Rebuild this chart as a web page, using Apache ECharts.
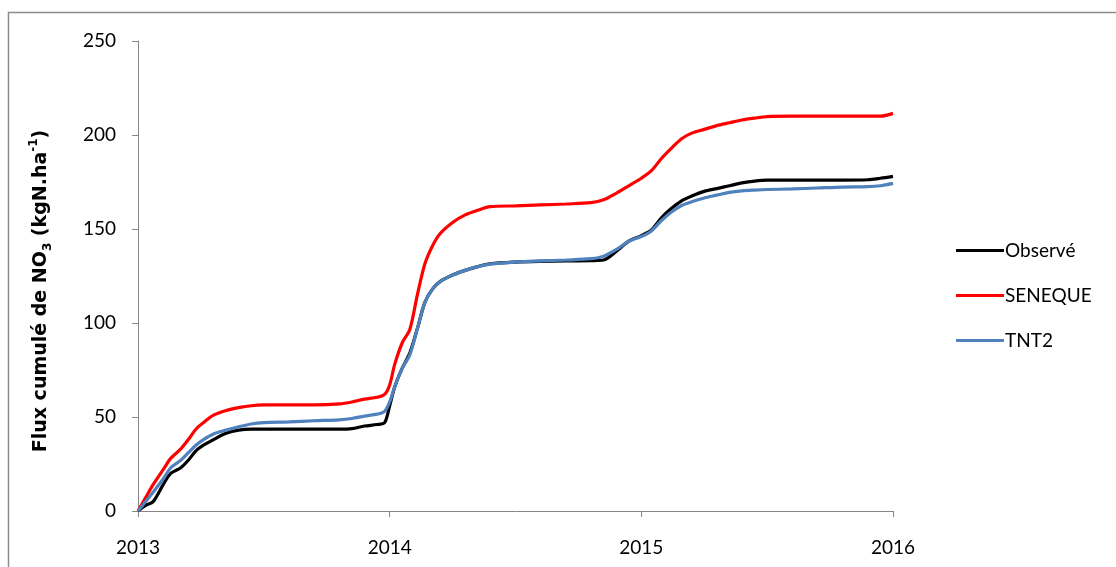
<!DOCTYPE html>
<html>
<head>
<meta charset="utf-8">
<script src="https://cdn.jsdelivr.net/npm/echarts@6/dist/echarts.min.js"></script>
<style>
  html, body {margin: 0; padding: 0; background: #fff;}
  #chart {width: 1116px; height: 567px;}
</style>
</head>
<body>
<div id="chart"></div>
<script>
// decimal years shared by the three curves
const years = [
  2013.00, 2013.03, 2013.06, 2013.10, 2013.13, 2013.17, 2013.20, 2013.23, 2013.26, 2013.30,
  2013.35, 2013.40, 2013.45, 2013.50, 2013.60, 2013.70, 2013.80, 2013.85, 2013.90, 2013.95,
  2013.98, 2014.00, 2014.02, 2014.05, 2014.08, 2014.11, 2014.14, 2014.17, 2014.20, 2014.25,
  2014.30, 2014.35, 2014.40, 2014.50, 2014.60, 2014.70, 2014.80, 2014.85, 2014.90, 2014.95,
  2015.00, 2015.04, 2015.08, 2015.12, 2015.16, 2015.20, 2015.25, 2015.30, 2015.35, 2015.40,
  2015.45, 2015.50, 2015.60, 2015.70, 2015.80, 2015.90, 2015.95, 2016.00
]

const observe = [
  0, 3, 5, 14, 20, 23, 27, 32, 35, 38,
  41.3, 43, 43.5, 43.5, 43.5, 43.5, 43.5, 43.8, 45.2, 46,
  47, 56, 66, 76, 84, 97, 111, 118, 122, 125.5,
  128, 130, 131.5, 132.4, 132.8, 133, 133.2, 133.5, 138, 143.5,
  146.5, 149.5, 156, 161, 165, 167.5, 170, 171.5, 173, 174.5,
  175.5, 176, 176, 176, 176, 176.2, 177, 178
]

const seneque = [
  0, 7, 14, 22, 28, 33, 38, 43.5, 47, 51,
  53.5, 55, 56, 56.4, 56.5, 56.5, 57, 58, 59.5, 60.5,
  62, 67, 78, 89.5, 96.5, 115, 131.5, 141, 147.5, 153.5,
  157.5, 160, 161.9, 162.3, 162.8, 163.3, 164, 165.5, 169, 173,
  177, 181, 187.5, 193, 198, 201, 203, 205, 206.5, 208,
  209, 209.8, 210, 210, 210, 210, 210, 211.5
]

const tnt2 = [
  0, 5, 10, 17, 23, 27, 31, 35, 38, 41,
  43, 44.8, 46.3, 47, 47.4, 48, 48.5, 49.2, 50.5, 51.5,
  53, 58, 66, 76, 83, 97, 111, 118, 122, 125.5,
  128, 130, 131.3, 132.4, 133, 133.5, 134.2, 135.5, 139, 143.5,
  146, 149, 154.5, 159, 162.5, 164.5, 166.5, 168, 169.5, 170.3,
  170.7, 171, 171.3, 171.8, 172.3, 172.5, 173, 174.3
]

const seriesNames = ['Observé', 'SENEQUE', 'TNT2']
const seriesColors = ['#000000', '#ff0000', '#4f81bd']
const seriesValues = [observe, seneque, tnt2]

const labelFont = 'Lato, "Open Sans", sans-serif'
const titleFont = '"DejaVu Sans", "Liberation Sans", sans-serif'

const chart = echarts.init(document.getElementById('chart'))

chart.setOption({
  backgroundColor: '#fff',
  animation: false,
  graphic: [{
    type: 'rect',
    shape: {x: 8.5, y: 12.5, width: 1130, height: 580},
    style: {fill: 'none', stroke: '#8c8c8c', lineWidth: 1.5},
    silent: true
  }],
  grid: {left: 138, right: 223, top: 41, bottom: 56},
  legend: {
    orient: 'vertical',
    left: 951,
    top: 236,
    icon: 'rect',
    itemWidth: 48,
    itemHeight: 3,
    itemGap: 26,
    data: seriesNames,
    textStyle: {fontSize: 19, lineHeight: 19, color: '#000', fontFamily: labelFont, padding: [0, 0, 0, -4]}
  },
  xAxis: {
    type: 'value',
    min: 2013,
    max: 2016,
    interval: 1,
    splitLine: {show: false},
    axisLine: {lineStyle: {color: '#868686', width: 1}},
    axisTick: {show: true, length: 6, lineStyle: {color: '#868686'}},
    axisLabel: {
      fontSize: 19, color: '#000', fontFamily: labelFont, margin: 27,
      formatter: v => String(v)
    }
  },
  yAxis: {
    type: 'value',
    min: 0,
    max: 250,
    interval: 50,
    splitLine: {show: false},
    axisLine: {show: true, lineStyle: {color: '#868686', width: 1}},
    axisTick: {show: true, length: 6, lineStyle: {color: '#868686'}},
    axisLabel: {fontSize: 19, color: '#000', fontFamily: labelFont, margin: 22},
    name: '{a|Flux cumulé de NO}{b|3}{a| (kgN.ha}{c|-1}{a|)}',
    nameLocation: 'middle',
    nameGap: 84,
    nameRotate: 90,
    nameTextStyle: {
      fontSize: 19, fontWeight: 'bold', color: '#000', fontFamily: titleFont,
      padding: [0, 30, 0, 0],
      rich: {
        a: {fontSize: 19, fontWeight: 'bold', fontFamily: titleFont, lineHeight: 26},
        b: {fontSize: 12, fontWeight: 'bold', fontFamily: titleFont, verticalAlign: 'bottom', lineHeight: 14},
        c: {fontSize: 12, fontWeight: 'bold', fontFamily: titleFont, verticalAlign: 'top', lineHeight: 14}
      }
    }
  },
  series: seriesNames.map((name, i) => ({
    name,
    type: 'line',
    symbol: 'none',
    smooth: 0.3,
    color: seriesColors[i],
    lineStyle: {width: 3.2, color: seriesColors[i]},
    data: years.map((y, k) => [y, seriesValues[i][k]])
  }))
})
</script>
</body>
</html>
